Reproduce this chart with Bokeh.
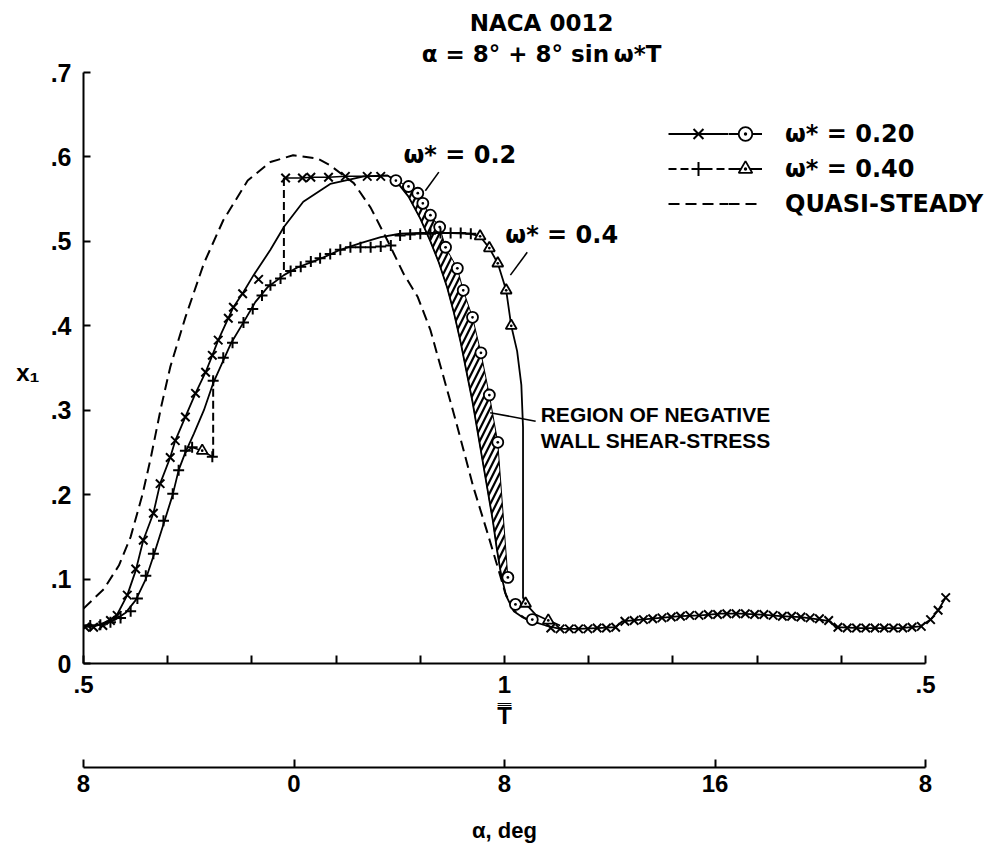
from bokeh.plotting import figure
from bokeh.models import (Range1d, LinearAxis, FixedTicker, Label, Arrow,
                          Legend, LegendItem, Grid)
from bokeh.embed import file_html
from bokeh.resources import INLINE

# ---------------- data (t/T, x1) ----------------
QS_T = [0.500, 0.524, 0.542, 0.556, 0.570, 0.580, 0.592, 0.603, 0.621, 0.643,
        0.666, 0.695, 0.722, 0.749, 0.778, 0.793, 0.821, 0.841, 0.861, 0.880,
        0.897, 0.912, 0.942, 0.963, 0.980, 0.992, 1.001, 1.011, 1.025, 1.040]
QS_X1 = [0.065, 0.088, 0.116, 0.150, 0.200, 0.244, 0.303, 0.351, 0.410, 0.474,
         0.525, 0.572, 0.594, 0.602, 0.598, 0.590, 0.569, 0.540, 0.501, 0.462,
         0.434, 0.395, 0.288, 0.209, 0.154, 0.114, 0.083, 0.063, 0.053, 0.048]

W20_LINE_T = [0.500, 0.508, 0.520, 0.532, 0.540, 0.552, 0.562, 0.571, 0.583, 0.591,
              0.603, 0.609, 0.621, 0.633, 0.645, 0.653, 0.660, 0.672, 0.678, 0.690,
              0.702, 0.722, 0.738, 0.761, 0.793, 0.833, 0.861,
              0.871, 0.886, 0.900, 0.912, 0.922, 0.932, 0.940, 0.948, 0.955, 0.962,
              0.968, 0.974, 0.980, 0.986, 0.991, 0.996, 1.002, 1.011, 1.021, 1.033,
              1.049,
              1.066, 1.088, 1.110, 1.132, 1.140, 1.162, 1.185, 1.209, 1.233, 1.257,
              1.280, 1.304, 1.328, 1.352, 1.375, 1.387, 1.393, 1.423, 1.447, 1.470,
              1.494, 1.506, 1.515, 1.524]
W20_LINE_X1 = [0.044, 0.043, 0.046, 0.052, 0.058, 0.081, 0.110, 0.146, 0.178, 0.213,
               0.244, 0.264, 0.292, 0.320, 0.345, 0.365, 0.383, 0.409, 0.422, 0.440,
               0.460, 0.490, 0.517, 0.547, 0.568, 0.577, 0.578,
               0.572, 0.553, 0.527, 0.500, 0.475, 0.445, 0.415, 0.380, 0.345, 0.310,
               0.275, 0.240, 0.205, 0.170, 0.135, 0.105, 0.080, 0.062, 0.055, 0.050,
               0.045,
               0.041, 0.041, 0.042, 0.043, 0.050, 0.052, 0.054, 0.056, 0.057, 0.059,
               0.059, 0.058, 0.056, 0.055, 0.052, 0.050, 0.043, 0.042, 0.042, 0.042,
               0.044, 0.052, 0.063, 0.078]

W20_X_T = [0.502, 0.512, 0.523, 0.532, 0.540, 0.552, 0.562, 0.571, 0.583, 0.591,
           0.603, 0.609, 0.621, 0.633, 0.645, 0.653, 0.660, 0.672, 0.678, 0.689,
           0.708,
           0.740, 0.760, 0.770, 0.791, 0.811, 0.837, 0.853,
           1.055, 1.066, 1.077, 1.088, 1.099, 1.110, 1.121, 1.132, 1.143, 1.154,
           1.165, 1.176, 1.187, 1.198, 1.209, 1.220, 1.231, 1.242, 1.253, 1.264,
           1.275, 1.286, 1.297, 1.308, 1.319, 1.330, 1.341, 1.352, 1.363, 1.374,
           1.385, 1.396, 1.407, 1.418, 1.429, 1.440, 1.451, 1.462, 1.473, 1.484,
           1.495, 1.506, 1.515, 1.524]
W20_X_X1 = [0.043, 0.043, 0.045, 0.051, 0.057, 0.081, 0.112, 0.146, 0.178, 0.213,
            0.244, 0.264, 0.292, 0.320, 0.345, 0.365, 0.383, 0.409, 0.422, 0.438,
            0.455,
            0.575, 0.575, 0.576, 0.576, 0.577, 0.577, 0.577,
            0.042, 0.041, 0.041, 0.041, 0.041, 0.042, 0.042, 0.043, 0.050, 0.051,
            0.052, 0.053, 0.054, 0.055, 0.056, 0.057, 0.057, 0.058, 0.058, 0.059,
            0.059, 0.059, 0.058, 0.058, 0.057, 0.056, 0.056, 0.055, 0.054, 0.053,
            0.051, 0.043, 0.042, 0.042, 0.042, 0.042, 0.042, 0.042, 0.042, 0.043,
            0.044, 0.052, 0.063, 0.078]

W20_O_T = [0.871, 0.886, 0.897, 0.903, 0.912, 0.923, 0.930, 0.944, 0.951, 0.962,
           0.972, 0.982, 0.992, 1.004, 1.013, 1.033]
W20_O_X1 = [0.572, 0.565, 0.557, 0.545, 0.531, 0.517, 0.493, 0.468, 0.442, 0.410,
            0.368, 0.318, 0.262, 0.102, 0.070, 0.052]

W20_JUMP_T = [0.738, 0.738]
W20_JUMP_X1 = [0.466, 0.575]

W40_LINE_T = [0.500, 0.514, 0.526, 0.538, 0.550, 0.562, 0.574, 0.583, 0.595, 0.606,
              0.613, 0.621, 0.631, 0.643, 0.654, 0.675, 0.690, 0.704, 0.719, 0.738,
              0.754, 0.770, 0.785, 0.805, 0.829, 0.853, 0.876, 0.900, 0.930, 0.960,
              0.971, 0.982, 0.992, 1.002, 1.008, 1.015, 1.020, 1.022, 1.022, 1.025,
              1.037, 1.052, 1.066]
W40_LINE_X1 = [0.045, 0.045, 0.048, 0.052, 0.060, 0.075, 0.100, 0.127, 0.165, 0.200,
               0.229, 0.250, 0.272, 0.300, 0.332, 0.379, 0.404, 0.428, 0.446, 0.460,
               0.469, 0.475, 0.481, 0.490, 0.498, 0.505, 0.509, 0.510, 0.510, 0.509,
               0.506, 0.492, 0.474, 0.442, 0.400, 0.370, 0.330, 0.280, 0.078, 0.071,
               0.058, 0.051, 0.045]

W40_PLUS_T = [0.508, 0.520, 0.532, 0.544, 0.556, 0.564, 0.574, 0.583, 0.595, 0.606,
              0.613, 0.621, 0.629, 0.653, 0.654, 0.666, 0.677, 0.690, 0.701, 0.712,
              0.722, 0.734, 0.746, 0.758, 0.770, 0.781, 0.793, 0.805, 0.817, 0.829,
              0.841, 0.853, 0.865, 0.876, 0.888, 0.900, 0.912, 0.924, 0.936, 0.948,
              0.960]
W40_PLUS_X1 = [0.045, 0.046, 0.049, 0.054, 0.062, 0.077, 0.104, 0.130, 0.169, 0.201,
               0.229, 0.252, 0.256, 0.245, 0.335, 0.362, 0.380, 0.404, 0.420, 0.436,
               0.448, 0.456, 0.465, 0.470, 0.476, 0.480, 0.485, 0.490, 0.493, 0.493,
               0.493, 0.494, 0.495, 0.507, 0.508, 0.509, 0.509, 0.510, 0.510, 0.510,
               0.509]

W40_TRI_T = [0.641, 0.971, 0.982, 0.992, 1.002, 1.008, 1.025, 1.052]
W40_TRI_X1 = [0.252, 0.506, 0.492, 0.474, 0.442, 0.400, 0.071, 0.051]

W40_BRANCH_T = [0.621, 0.629, 0.641, 0.653]
W40_BRANCH_X1 = [0.250, 0.256, 0.252, 0.245]
W40_JUMP_T = [0.654, 0.654]
W40_JUMP_X1 = [0.245, 0.339]

# ticks / labels
Y_TICKS = [0, 0.1, 0.2, 0.3, 0.4, 0.5, 0.6, 0.7]
Y_TICK_LABELS = ["0", ".1", ".2", ".3", ".4", ".5", ".6", ".7"]
Y_LABEL_AT = 0.345
Y_LABEL = "x\u2081"
T_MAJOR = [0.5, 1.0, 1.5]
T_MAJOR_LABELS = [".5", "1", ".5"]
T_MINOR = [0.6, 0.7, 0.8, 0.9, 1.1, 1.2, 1.3, 1.4]
T_LABEL_AT = 1.0
T_LABEL = "T\u033F"
ALPHA_TICK_T = [0.5, 0.75, 1.0, 1.25, 1.5]
ALPHA_TICK_LABELS = ["8", "0", "8", "16", "8"]
ALPHA_LABEL = "\u03b1, deg"
TITLE_1 = "NACA 0012"
TITLE_2 = "\u03b1 = 8\u00b0 + 8\u00b0 sin\u2009\u03c9*T"

# ---------------- style ----------------
FONT = "Liberation Sans"
WIDE = "DejaVu Sans"
W, H = 1000, 858
LEFT, TOP, BOTTOM = 83, 72, 195
PX_PER_T = 842.0
PX_PER_X1 = (H - TOP - BOTTOM) / 0.7
X_END = 0.5 + (W - LEFT) / PX_PER_T
Y_END = 0.7 + TOP / PX_PER_X1          # headroom for the two title lines
GAP_AT = X_END - 0.01                  # position of an invisible spacer tick

p = figure(width=W, height=H, x_range=Range1d(0.5, X_END), y_range=Range1d(0, Y_END),
           x_axis_location=None, y_axis_location=None,
           output_backend="svg", toolbar_location=None,
           min_border_left=LEFT, min_border_right=0, min_border_top=0,
           min_border_bottom=BOTTOM)
p.outline_line_color = None
p.background_fill_color = "white"
p.border_fill_color = "white"
for r in list(p.center):
    if isinstance(r, Grid):
        r.visible = False


def style_axis(ax, size="24px"):
    ax.axis_line_width = 2
    ax.axis_line_color = "black"
    ax.major_tick_line_width = 2
    ax.minor_tick_line_width = 2
    ax.major_tick_in = 8
    ax.major_tick_out = 0
    ax.minor_tick_in = 8
    ax.minor_tick_out = 0
    ax.major_label_text_font = FONT
    ax.major_label_text_font_style = "bold"
    ax.major_label_text_font_size = size
    ax.major_label_text_color = "black"


def label_axis(at, text, standoff, size="24px"):
    """An axis with no line and no tick marks, carrying one positioned label."""
    ax = LinearAxis(ticker=FixedTicker(ticks=[at]),
                    major_label_overrides={at: text})
    style_axis(ax, size)
    ax.axis_line_color = None
    ax.major_tick_line_color = None
    ax.minor_tick_line_color = None
    ax.major_tick_in = 0
    ax.minor_tick_in = 0
    ax.major_label_standoff = standoff
    return ax


yaxis = LinearAxis(ticker=FixedTicker(ticks=Y_TICKS),
                   major_label_overrides=dict(zip(Y_TICKS, Y_TICK_LABELS)),
                   bounds=(0, 0.7))
style_axis(yaxis, "25px")
yaxis.major_tick_in = 7
yaxis.major_label_standoff = 12
p.add_layout(yaxis, "left")
p.add_layout(label_axis(Y_LABEL_AT, Y_LABEL, 8), "left")

xaxis = LinearAxis(ticker=FixedTicker(ticks=T_MAJOR, minor_ticks=T_MINOR),
                   major_label_overrides=dict(zip(T_MAJOR, T_MAJOR_LABELS)),
                   bounds=(0.5, 1.5))
style_axis(xaxis)
xaxis.major_label_standoff = 12
p.add_layout(xaxis, "below")

p.add_layout(label_axis(T_LABEL_AT, T_LABEL, 6), "below")

gap = LinearAxis(ticker=FixedTicker(ticks=[GAP_AT]),
                 major_label_overrides={GAP_AT: ""},
                 major_label_text_font_size="0px", major_label_standoff=0,
                 axis_line_color=None, major_tick_line_color="white",
                 minor_tick_line_color=None, major_tick_out=36, major_tick_in=0,
                 minor_tick_in=0, minor_tick_out=0)
p.add_layout(gap, "below")

aaxis = LinearAxis(ticker=FixedTicker(ticks=ALPHA_TICK_T),
                   major_label_overrides=dict(zip(ALPHA_TICK_T, ALPHA_TICK_LABELS)),
                   bounds=(0.5, 1.5))
style_axis(aaxis)
aaxis.minor_tick_in = 0
aaxis.major_label_standoff = 7
p.add_layout(aaxis, "below")

p.add_layout(label_axis(T_LABEL_AT, ALPHA_LABEL, 23, size="22px"), "below")

# ---------------- marks ----------------
# hatched region of negative wall shear stress (between w*=0.2 curve and circles)
hl = [(t, v) for t, v in zip(W20_LINE_T, W20_LINE_X1) if 0.861 <= t <= 1.0]
hr = [(t, v) for t, v in zip(W20_O_T, W20_O_X1) if v >= 0.1]
poly = hl + hr[::-1]
p.patch([a for a, b in poly], [b for a, b in poly], fill_color=None,
        hatch_pattern="/", hatch_color="black", hatch_weight=2.2, hatch_scale=12,
        line_color="black", line_width=1)

r_qs = p.line(QS_T, QS_X1, line_color="black", line_width=2, line_dash="11 6")
r20_line = p.line(W20_LINE_T, W20_LINE_X1, line_color="black", line_width=1.8)
top = [(W20_JUMP_T[-1], W20_JUMP_X1[-1])] + \
      [(t, v) for t, v in zip(W20_X_T, W20_X_X1) if v > 0.57]
p.line([a for a, b in top], [b for a, b in top], line_color="black", line_width=1.5)
p.line(W20_JUMP_T, W20_JUMP_X1, line_color="black", line_width=2, line_dash="8 4")

r40_line = p.line(W40_LINE_T, W40_LINE_X1, line_color="black", line_width=1.8)
p.line(W40_BRANCH_T, W40_BRANCH_X1, line_color="black", line_width=1.5)
r40_jump = p.line(W40_JUMP_T, W40_JUMP_X1, line_color="black", line_width=2,
                  line_dash="8 4")

r20_x = p.scatter(W20_X_T, W20_X_X1, marker="x", size=12, line_color="black",
                  line_width=2)
r20_o = p.scatter(W20_O_T, W20_O_X1, marker="circle_dot", size=11,
                  line_color="black", fill_color="white", line_width=1.8)
r40_p = p.scatter(W40_PLUS_T, W40_PLUS_X1, marker="cross", size=11,
                  line_color="black", line_width=2)
r40_tri = p.scatter(W40_TRI_T, W40_TRI_X1, marker="triangle_dot", size=11,
                    line_color="black", fill_color="white", line_width=1.8)

# ---------------- legend ----------------
common = dict(padding=0, margin=0, spacing=0, glyph_height=35, label_height=35,
              border_line_color=None, background_fill_alpha=0,
              label_text_font=WIDE, label_text_font_style="bold",
              label_text_font_size="24px", label_text_color="black")
legA = Legend(items=[LegendItem(label=" ", renderers=[r20_line, r20_x]),
                     LegendItem(label=" ", renderers=[r40_jump, r40_p]),
                     LegendItem(label=" ", renderers=[r_qs])],
              location=(585, 442), glyph_width=60, label_width=0,
              label_standoff=0, **common)
legB = Legend(items=[LegendItem(label="\u03c9* = 0.20", renderers=[r20_line, r20_o]),
                     LegendItem(label="\u03c9* = 0.40", renderers=[r40_line, r40_tri]),
                     LegendItem(label="QUASI-STEADY", renderers=[r_qs])],
              location=(645, 442), glyph_width=34, label_standoff=23, **common)
p.add_layout(legA)
p.add_layout(legB)

# ---------------- texts / annotations ----------------
def label(x, y, text, size="23px", align="left", font=WIDE):
    p.add_layout(Label(x=x, y=y, text=text,
                       text_font=font, text_font_style="bold",
                       text_font_size=size, text_align=align,
                       text_baseline="middle", text_color="black"))


label(1.044, 0.759, TITLE_1, align="center")
label(1.044, 0.722, TITLE_2, align="center")
label(0.880, 0.602, "\u03c9* = 0.2", size="24px")
label(1.001, 0.507, "\u03c9* = 0.4", size="24px")
label(1.043, 0.295, "REGION OF NEGATIVE", size="21px", font=FONT)
label(1.043, 0.264, "WALL SHEAR-STRESS", size="21px", font=FONT)

for xs, ys, xe, ye in [(0.922, 0.582, 0.906, 0.560),
                       (1.027, 0.487, 1.007, 0.460),
                       (1.037, 0.287, 0.983, 0.297)]:
    p.add_layout(Arrow(end=None, x_start=xs, y_start=ys, x_end=xe, y_end=ye,
                       line_color="black", line_width=1.6))

open("out.html", "w").write(file_html(p, INLINE))
